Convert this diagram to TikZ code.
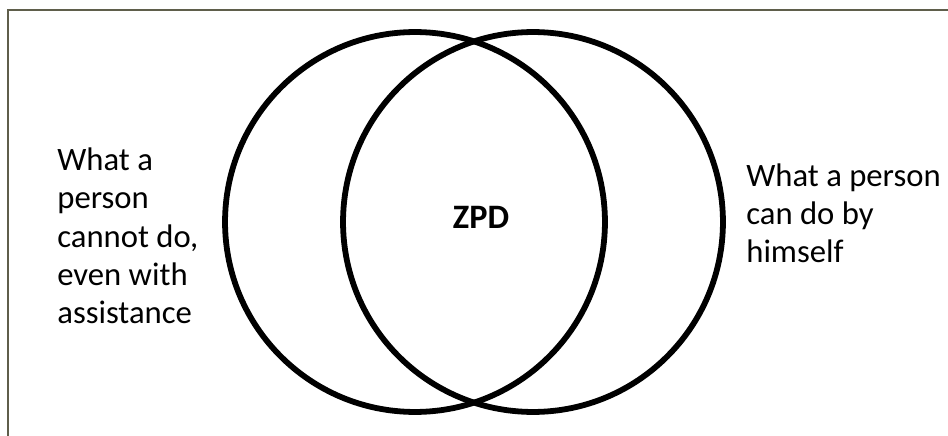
\documentclass[tikz,border=0pt]{standalone}
\usepackage{fontspec}
\setmainfont{Carlito}
\definecolor{frame}{RGB}{95,94,75}
\begin{document}
\begin{tikzpicture}[x=0.02cm,y=-0.02cm,
  ring/.style={draw=black,line width=3.3pt},
  lbl/.style={anchor=base west,inner sep=0pt,font=\fontsize{18.6}{22}\selectfont},
  zpd/.style={anchor=base,inner sep=0pt,font=\fontsize{19.5}{22}\selectfont\bfseries}]
\useasboundingbox[fill=white] (0,0) rectangle (948,436);
\draw[frame,line width=1.1pt] (8,436) -- (8,10) -- (948,10);
\draw[ring] (415,222) circle[radius=3.8cm];
\draw[ring] (533,222) circle[radius=3.8cm];
\node[zpd] (z) at (481,228) {ZPD};
\node[lbl] (l1) at (57,170) {What a};
\node[lbl] (l2) at (57,208) {person};
\node[lbl] (l3) at (57,247) {cannot do,};
\node[lbl] (l4) at (57,285) {even with};
\node[lbl] (l5) at (57,323) {assistance};
\node[lbl] (r1) at (746,186) {What a person};
\node[lbl] (r2) at (746,224) {can do by};
\node[lbl] (r3) at (746,262) {himself};
\end{tikzpicture}
\end{document}
